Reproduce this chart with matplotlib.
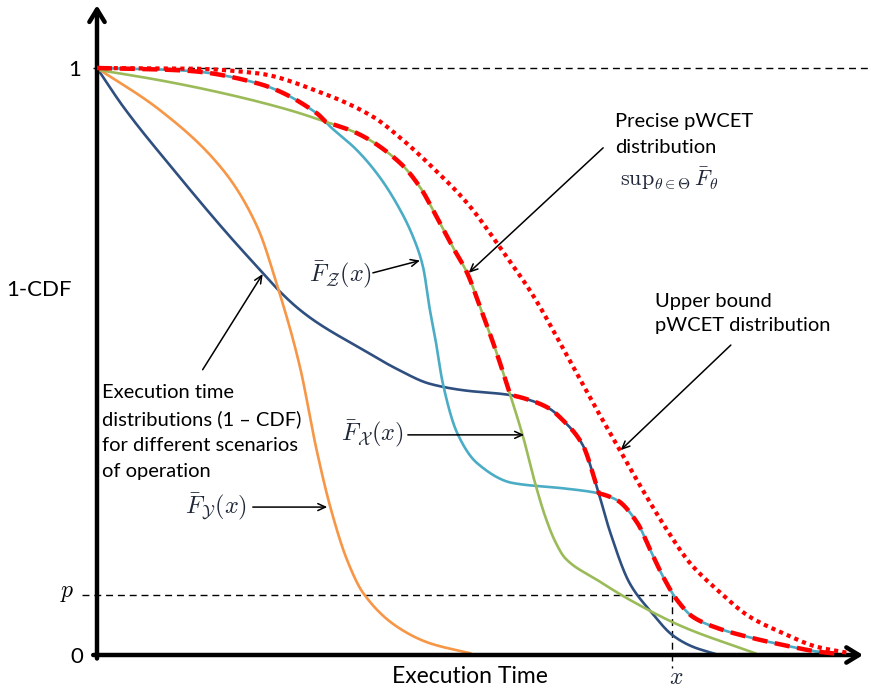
import numpy as np
import matplotlib
matplotlib.use("Agg")
import matplotlib.pyplot as plt

plt.rcParams['mathtext.fontset'] = 'cm'
plt.rcParams['font.family'] = ['Lato', 'DejaVu Sans']

# Execution-time exceedance curves (1 - CDF), time in arbitrary units 0..100
t_navy = [0, 3.4, 10.5, 17.0, 21.8, 24.0, 26.5, 29.0, 35.0, 39.5, 43.8, 48.2, 54.3, 57.0, 59.5, 61.3, 63.9,
          65.8, 67.5, 70.1, 72.8, 75.8, 78.4, 81.3]
p_navy = [1.0, 0.935, 0.820, 0.720, 0.651, 0.620, 0.590, 0.566, 0.520, 0.487, 0.462, 0.451, 0.443, 0.434, 0.420,
          0.400, 0.358, 0.285, 0.210, 0.122, 0.075, 0.033, 0.014, 0.002]

t_orange = [0, 8.3, 16.6, 21.1, 23.7, 26.7, 28.9, 30.7, 32.9, 35.0, 39.5, 43.8, 49.1]
p_orange = [1.0, 0.928, 0.826, 0.729, 0.630, 0.491, 0.349, 0.252, 0.162, 0.106, 0.048, 0.020, 0.003]

t_cyan = [0, 7.0, 12.2, 21.1, 28.9, 30.7, 34.2, 37.2, 39.9, 41.6, 42.9, 43.8, 44.5, 45.5, 47.4, 50.0, 54.7,
          61.3, 65.8, 68.4, 71.1, 72.8, 74.5, 76.3, 78.4, 81.6, 85.9, 90.3, 94.7, 97.4]
p_cyan = [1.0, 0.998, 0.995, 0.974, 0.923, 0.900, 0.860, 0.814, 0.758, 0.712, 0.661, 0.588, 0.540, 0.463, 0.378,
          0.327, 0.293, 0.284, 0.276, 0.264, 0.225, 0.179, 0.133, 0.094, 0.065, 0.046, 0.030, 0.017, 0.006, 0.002]

t_green = [0, 7.9, 16.6, 25.4, 29.7, 34.2, 39.9, 42.5, 44.7, 46.8, 48.7, 50.4, 52.6, 54.3, 56.1, 57.6, 59.0,
           60.3, 61.6, 65.8, 70.1, 77.1, 86.6]
p_green = [0.997, 0.980, 0.957, 0.928, 0.910, 0.889, 0.838, 0.797, 0.746, 0.695, 0.651, 0.593, 0.514, 0.446,
           0.370, 0.295, 0.235, 0.193, 0.165, 0.128, 0.094, 0.048, 0.003]

# Upper bound pWCET distribution
t_upper = [0, 12.2, 21.1, 29.7, 36.3, 40.0, 44.2, 48.7, 53.0, 57.4, 61.8, 65.8, 68.8, 71.8, 75.0, 78.0,
           81.6, 85.9, 90.3, 94.7, 99.1]
p_upper = [1.0, 0.999, 0.991, 0.957, 0.917, 0.880, 0.830, 0.770, 0.695, 0.612, 0.511, 0.417, 0.349, 0.281, 0.213,
           0.157, 0.111, 0.065, 0.037, 0.014, 0.003]

p_level = 0.102   # probability threshold p
x_level = 75.7    # execution time x at which the pWCET reaches p


def pchip(x, y, xs):
    """Monotone piecewise-cubic (Fritsch-Carlson) interpolation."""
    x = np.asarray(x, float)
    y = np.asarray(y, float)
    h = np.diff(x)
    d = np.diff(y) / h
    m = np.zeros_like(y)
    for k in range(1, len(x) - 1):
        if d[k - 1] * d[k] > 0:
            w1 = 2 * h[k] + h[k - 1]
            w2 = h[k] + 2 * h[k - 1]
            m[k] = (w1 + w2) / (w1 / d[k - 1] + w2 / d[k])
    m[0], m[-1] = d[0], d[-1]
    i = np.clip(np.searchsorted(x, xs) - 1, 0, len(x) - 2)
    s = (xs - x[i]) / h[i]
    h00 = 2 * s ** 3 - 3 * s ** 2 + 1
    h10 = s ** 3 - 2 * s ** 2 + s
    h01 = -2 * s ** 3 + 3 * s ** 2
    h11 = s ** 3 - s ** 2
    return h00 * y[i] + h10 * h[i] * m[i] + h01 * y[i + 1] + h11 * h[i] * m[i + 1]


def curve(t, p, n=3000):
    xs = np.linspace(t[0], t[-1], n)
    return xs, pchip(t, p, xs)


W, H = 871, 690
fig = plt.figure(figsize=(W / 100, H / 100), dpi=100)
ax = fig.add_axes([97 / W, (H - 655) / H, 760 / W, 587 / H])
ax.set_xlim(0, 100)
ax.set_ylim(0, 1)
ax.axis('off')

c_navy, c_orange, c_cyan, c_green = '#2E4F7F', '#F79646', '#4BACC6', '#9BBB59'
lw = 1.9

series = [(t_navy, p_navy, c_navy), (t_orange, p_orange, c_orange),
          (t_cyan, p_cyan, c_cyan), (t_green, p_green, c_green)]
tg = np.linspace(0, 100, 4000)
sampled = []
for t, p, col in series:
    cx, cy = curve(t, p)
    ax.plot(cx, cy, color=col, lw=lw, clip_on=False, zorder=3)
    sampled.append(np.interp(tg, cx, cy, left=1.0, right=0.0))

# Precise pWCET: supremum of the scenario curves
env = np.max(sampled, axis=0)
keep = env > 0
ax.plot(tg[keep], env[keep], color='#FF0000', lw=3.2, linestyle=(0, (3.4, 1.7)),
        dash_capstyle='butt', clip_on=False, zorder=4)

# Upper bound
ux, uy = curve(t_upper, p_upper)
ax.plot(ux, uy, color='#FF0000', lw=3.0, linestyle=(0, (1, 1)), dash_capstyle='butt',
        clip_on=False, zorder=4)

# Reference dashed lines
ref = dict(color='black', lw=1.0, linestyle=(0, (5, 3.5)), clip_on=False, zorder=2)
ax.plot([-0.5, 101.8], [1, 1], **ref)
ax.plot([-2.0, x_level], [p_level, p_level], **ref)
ax.plot([x_level, x_level], [p_level, -0.022], **ref)

# Axes with arrow heads
axis_arrow = dict(arrowstyle='->,head_length=0.9,head_width=0.55', lw=3.2, color='black',
                  shrinkA=0, shrinkB=0)
ax.annotate('', xy=(0, 1.107), xytext=(0, -0.006), arrowprops=axis_arrow, annotation_clip=False)
ax.annotate('', xy=(100.8, 0), xytext=(-0.5, 0), arrowprops=axis_arrow, annotation_clip=False)

body = dict(fontsize=14.5, color='black')
ax.text(-2.9, 0.997, '1', ha='center', va='center', fontsize=16)
ax.text(-2.6, -0.003, '0', ha='center', va='center', fontsize=16)
ax.text(-7.6, 0.622, '1-CDF', ha='center', va='center', fontsize=16)
ax.text(49.1, -0.037, 'Execution Time', ha='center', va='center', fontsize=16.5)
ax.text(-3.9, 0.104, '$p$', ha='center', va='center', fontsize=17)
ax.text(76.2, -0.038, '$x$', ha='center', va='center', fontsize=17, color='#202838')

thin = dict(arrowstyle='->,head_length=0.55,head_width=0.25', lw=1.1, color='black',
            shrinkA=0, shrinkB=0)
mcol = '#202838'
msize = 17.5

ax.text(32.1, 0.647, r'$\bar{F}_{\mathcal{Z}}(x)$', ha='center', va='center', fontsize=msize, color=mcol)
ax.annotate('', xy=(42.5, 0.672), xytext=(36.3, 0.651), arrowprops=thin, annotation_clip=False)

ax.text(36.3, 0.375, r'$\bar{F}_{\mathcal{X}}(x)$', ha='center', va='center', fontsize=msize, color=mcol)
ax.annotate('', xy=(56.2, 0.375), xytext=(40.9, 0.375), arrowprops=thin, annotation_clip=False)

ax.text(15.6, 0.252, r'$\bar{F}_{\mathcal{Y}}(x)$', ha='center', va='center', fontsize=msize, color=mcol)
ax.annotate('', xy=(30.3, 0.252), xytext=(20.5, 0.252), arrowprops=thin, annotation_clip=False)

ax.text(68.2, 0.886, 'Precise pWCET\ndistribution', ha='left', va='center', linespacing=1.65, **body)
ax.text(68.8, 0.812, r'$\mathrm{sup}_{\theta\in\Theta}\,\bar{F}_{\theta}$', ha='left', va='center',
        fontsize=16, color=mcol)
ax.annotate('', xy=(48.9, 0.651), xytext=(66.6, 0.864), arrowprops=thin, annotation_clip=False)

ax.text(73.4, 0.582, 'Upper bound\npWCET distribution', ha='left', va='center', linespacing=1.55, **body)
ax.annotate('', xy=(68.9, 0.349), xytext=(83.4, 0.528), arrowprops=thin, annotation_clip=False)

ax.text(0.6, 0.380, 'Execution time\ndistributions (1 \u2013 CDF)\nfor different scenarios\nof operation',
        ha='left', va='center', linespacing=1.65, **body)
ax.annotate('', xy=(21.8, 0.649), xytext=(13.9, 0.486), arrowprops=thin, annotation_clip=False)

fig.savefig('out.png', dpi=100, facecolor='white')
